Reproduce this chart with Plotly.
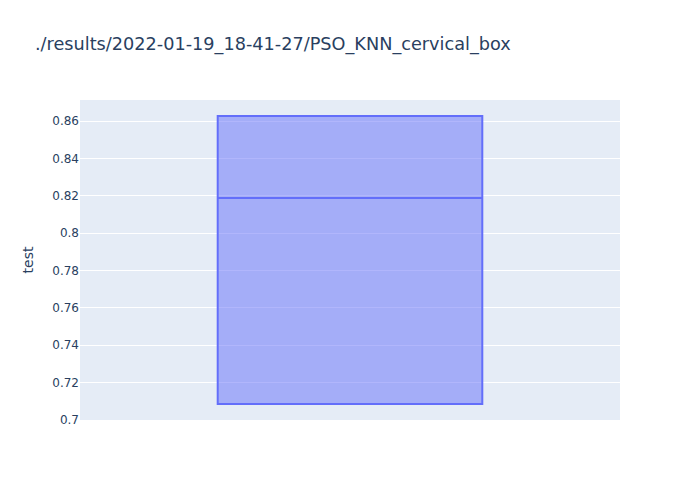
import plotly.graph_objects as go

title_text = "./results/2022-01-19_18-41-27/PSO_KNN_cervical_box"
y_label = "test"
test_values = [0.7084, 0.8189, 0.8628]

fig = go.Figure()
fig.add_trace(go.Box(
    y=test_values,
    x0=" ",
    name="",
    marker_color="#636efa",
    boxpoints=False,
    quartilemethod="exclusive",
    offsetgroup="",
    alignmentgroup="True",
    showlegend=False,
))
fig.update_layout(
    template="plotly",
    width=700,
    height=500,
    font=dict(family="Verdana, 'DejaVu Sans', sans-serif"),
    title=dict(text=title_text, font=dict(size=17.7)),
    boxmode="group",
    yaxis=dict(title=dict(text=y_label)),
    xaxis=dict(showticklabels=False),
)
fig.write_html("out.html")
